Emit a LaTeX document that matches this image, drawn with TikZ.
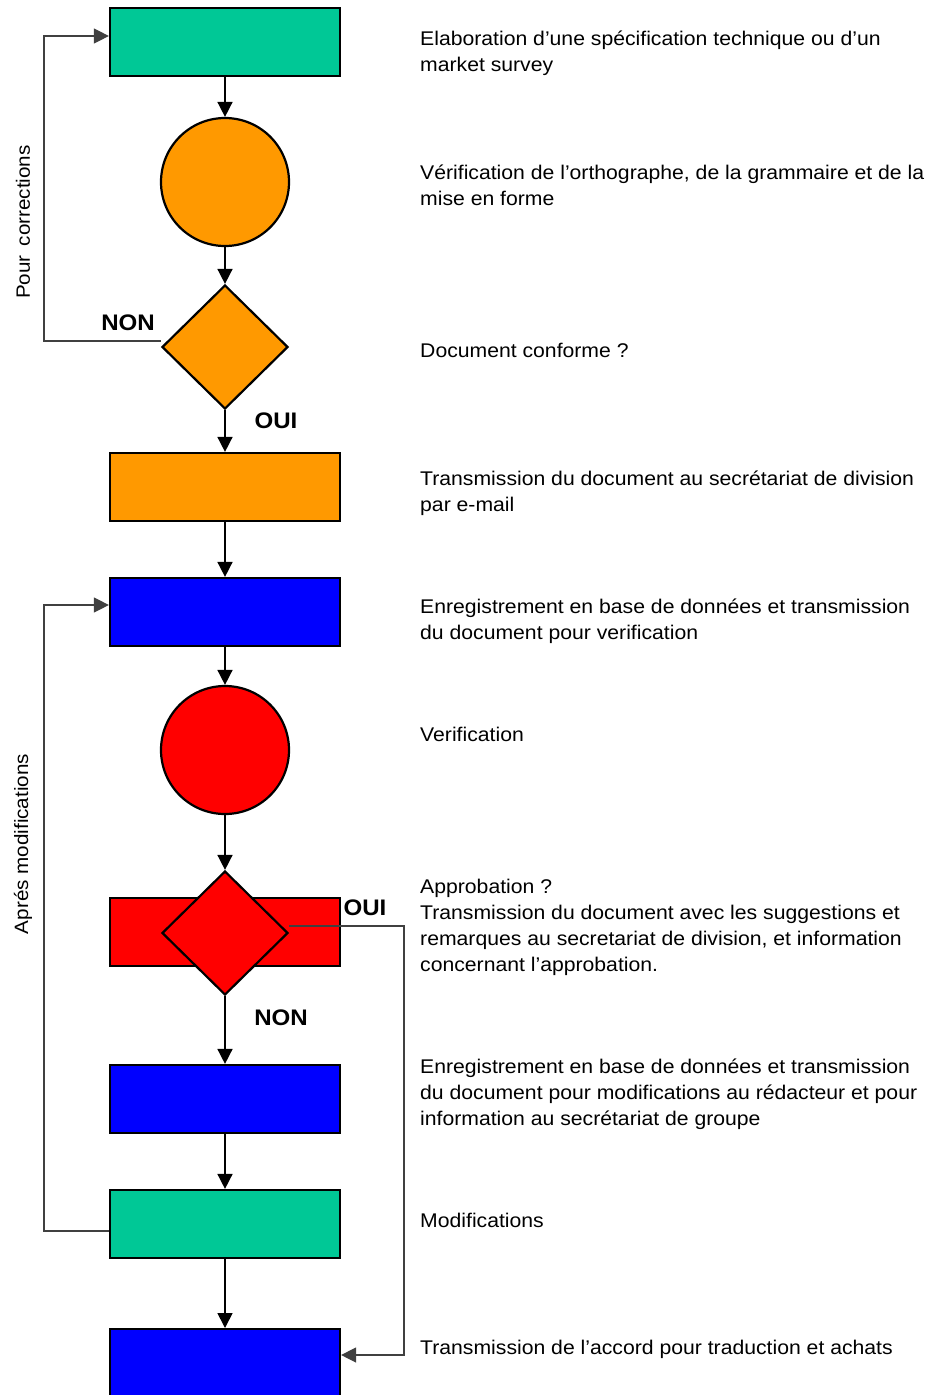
\documentclass[tikz,border=0pt]{standalone}
\usepackage{fontspec}
\setmainfont{Liberation Sans}[FakeStretch=1.07]
\usepackage{xcolor,tikz}
\usetikzlibrary{calc,positioning,shapes.geometric,arrows.meta}
\tikzset{>={Triangle[length=15pt,width=15pt]}}
\definecolor{vertd}{RGB}{0,200,150}
\definecolor{orangd}{RGB}{255,153,0}
\definecolor{bleud}{RGB}{0,0,255}
\definecolor{rouged}{RGB}{255,0,0}
\begin{document}
\begin{tikzpicture}[x=1pt,y=-1pt,
  every node/.style={font=\fontsize{19.8}{26}\selectfont},
  bloc/.style={draw,line width=2.2pt,minimum width=230pt,minimum height=68pt,inner sep=0pt},
  rond/.style={circle,draw,line width=2.2pt,minimum size=128pt,inner sep=0pt},
  choix/.style={diamond,draw,line width=2.2pt,minimum width=126pt,minimum height=124pt,inner sep=0pt},
  fleche/.style={->,line width=1.6pt},
  retour/.style={->,line width=1.3pt,draw=black!75},
  txt/.style={anchor=base west,align=left,inner sep=0pt},
  rep/.style={font=\fontsize{22.5}{28}\selectfont\bfseries,inner sep=0pt},
  cote/.style={rotate=90,inner sep=0pt,font=\fontsize{19.3}{24}\selectfont}]
\path[use as bounding box] (0,0) rectangle (927,1395);
\clip (0,0) rectangle (927,1395);

\node[bloc,fill=vertd] (spec) at (225,42) {};
\node[rond,fill=orangd] (ortho) at (225,182) {};
\node[choix,fill=orangd] (conforme) at (225,347) {};
\node[bloc,fill=orangd] (mail) at (225,487) {};
\node[bloc,fill=bleud] (base) at (225,612) {};
\node[rond,fill=rouged] (verif) at (225,750) {};
\node[bloc,fill=rouged] (approb) at (225,932) {};
\node[choix,fill=rouged] (approbq) at (225,933) {};
\node[bloc,fill=bleud] (modbase) at (225,1099) {};
\node[bloc,fill=vertd] (modif) at (225,1224) {};
\node[bloc,fill=bleud,minimum height=100pt,anchor=north] (accord) at (225,1328) {};

\draw[fleche] (spec) -- (ortho);
\draw[fleche] (ortho) -- (conforme);
\draw[fleche] (conforme) -- (mail);
\draw[fleche] (mail) -- (base);
\draw[fleche] (base) -- (verif);
\draw[fleche] (verif) -- (approbq);
\draw[fleche] (approbq) -- (modbase);
\draw[fleche] (modbase) -- (modif);
\draw[fleche] (modif.south) -- (accord.north);

\draw[retour] ([yshift=6pt]conforme.west) -- ++(-117,0) |- ([yshift=6pt]spec.west);
\draw[retour] ([yshift=-7pt]modif.west) -- ++(-65,0) |- ([yshift=7pt]base.west);
\draw[retour] ([yshift=7pt]approbq.east) -- ++(115,0) |- ([yshift=-27pt]accord.north east);

\node[rep] (non1) at (128,323) {NON};
\node[rep] (oui1) at (276,421) {OUI};
\node[rep] (oui2) at (365,908) {OUI};
\node[rep] (non2) at (281,1018) {NON};
\node[cote] (corr) at (23,222) {Pour\hspace{9pt}corrections};
\node[cote] (apres) at (23,844) {Aprés modifications};

\node[txt] (t1) at (420,71) {Elaboration d’une spécification technique ou d’un\\market survey};
\node[txt] (t2) at (420,205) {Vérification de l’orthographe, de la grammaire et de la\\mise en forme};
\node[txt] (t3) at (420,357) {Document conforme ?};
\node[txt] (t4) at (420,511) {Transmission du document au secrétariat de division\\par e-mail};
\node[txt] (t5) at (420,639) {Enregistrement en base de données et transmission\\du document pour verification};
\node[txt] (t6) at (420,741) {Verification};
\node[txt] (t7) at (420,971) {Approbation ?\\Transmission du document avec les suggestions et\\remarques au secretariat de division, et information\\concernant l’approbation.};
\node[txt] (t8) at (420,1125) {Enregistrement en base de données et transmission\\du document pour modifications au rédacteur et pour\\information au secrétariat de groupe};
\node[txt] (t9) at (420,1227) {Modifications};
\node[txt] (t10) at (420,1354) {Transmission de l’accord pour traduction et achats};
\end{tikzpicture}
\end{document}
